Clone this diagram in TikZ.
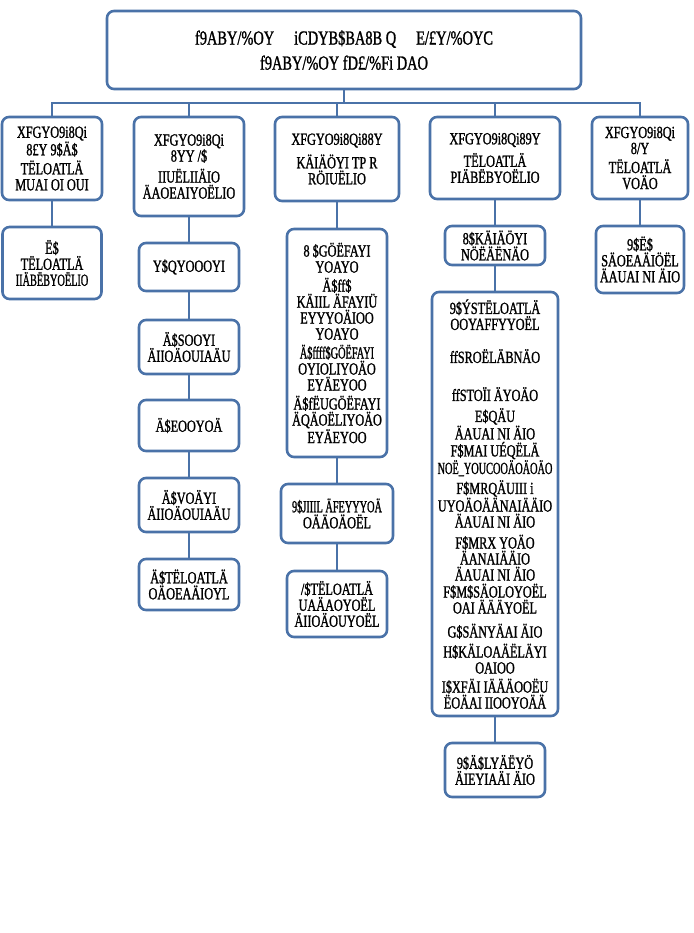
\documentclass[tikz,border=0pt]{standalone}
\usepackage{fontspec}
\setmainfont[FakeStretch=0.72,FakeBold=1.2]{Liberation Serif}
\definecolor{boxblue}{HTML}{4A72A8}
\newcommand{\narrowline}[1]{\scalebox{0.84}[1]{#1}}
\tikzset{
  box/.style={draw=boxblue, line width=2.6pt, rounded corners=7pt, fill=white,
    align=center, inner sep=1pt, font=\fontsize{17}{16}\selectfont},
  topbox/.style={box, font=\fontsize{20}{25}\selectfont},
  link/.style={draw=boxblue, line width=2.6pt},
}
\begin{document}
\begin{tikzpicture}[x=1pt,y=-1pt]
\useasboundingbox (0,0) rectangle (693,933);
\fill[white] (0,0) rectangle (693,933);
% top
\node[topbox, minimum width=474pt, minimum height=78pt] (top) at (344,50)
  {f9ABY/\%OY\quad iCDYB\$BA8B Q\quad E/£Y/\%OYC\\ f9ABY/\%OY fD£/\%Fi DAO};
\coordinate (bus) at (344,103);
% row 1
\node[box, minimum width=100pt, minimum height=83pt] (b1) at (52,158.5)
  {XFGYO9i8Qi\\8£Y 9\$Ä\$\\[3pt]TËLOATLÄ\\MUAI OI OUI};
\node[box, minimum width=110pt, minimum height=99pt] (b2) at (189,166.5)
  {XFGYO9i8Qi\\8YY /\$\\[5pt]IIUËLIIÄIO\\ÄAOEAIYOËLIO};
\node[box, minimum width=124pt, minimum height=84pt] (b3) at (337,159)
  {XFGYO9i8Qi88Y\\[6pt]KÄIÄÖYI TP R\\RÖIUËLIO};
\node[box, minimum width=130pt, minimum height=82pt] (b4) at (495,158)
  {XFGYO9i8Qi89Y\\[5pt]TËLOATLÄ\\PIÄBËBYOËLIO};
\node[box, minimum width=96pt, minimum height=82pt] (b5) at (640,158)
  {XFGYO9i8Qi\\8/Y\\[3pt]TËLOATLÄ\\VOÄO};
% column 1
\node[box, minimum width=99pt, minimum height=72pt] (c1) at (52,263)
  {Ë\$\\TËLOATLÄ\\\narrowline{IIÄBËBYOËLIO}};
% column 2
\node[box, minimum width=100pt, minimum height=48pt] (c2a) at (189,267) {Y\$QYOOOYI};
\node[box, minimum width=100pt, minimum height=54pt] (c2b) at (189,347) {Ä\$SOOYI\\ÄIIOÄOUIAÄU};
\node[box, minimum width=100pt, minimum height=51pt] (c2c) at (189,425.5) {Ä\$EOOYOÄ};
\node[box, minimum width=100pt, minimum height=54pt] (c2d) at (189,505) {Ä\$VOÄYI\\ÄIIOÄOUIAÄU};
\node[box, minimum width=100pt, minimum height=51pt] (c2e) at (189,584.5) {Ä\$TËLOATLÄ\\OÄOEAÄIOYL};
% column 3
\node[box, minimum width=100pt, minimum height=228pt] (c3a) at (337,343)
  {8 \$GÖËFAYI\\YOAYO\\[3pt]Ä\$ff\$\\KÄIIL ÄFAYIÜ\\EYYYOÄIOO\\YOAYO\\[3pt]\narrowline{Ä\$ffff\$GÖËFAYI}\\OYIOLIYOÄO\\EYÄEYOO\\[3pt]Ä\$fËUGÖËFAYI\\ÄQÄOËLIYOÄO\\EYÄEYOO};
\node[box, minimum width=112pt, minimum height=59pt] (c3b) at (337,513.5)
  {\narrowline{9\$JIIIL ÄFEYYYOÄ}\\OÄÄOÄOËL};
\node[box, minimum width=100pt, minimum height=66pt] (c3c) at (337,604)
  {/\$TËLOATLÄ\\UAÄAOYOËL\\ÄIIOÄOUYOËL};
% column 4
\node[box, minimum width=100pt, minimum height=39pt] (c4a) at (495,245.5)
  {8\$KÄIÄÖYI\\NÖËÄËNÄO};
\node[box, minimum width=126pt, minimum height=424pt] (c4b) at (495,504)
  {9\$ÝSTËLOATLÄ\\OOYAFFYYOËL\\[17pt]ffSROËLÄBNÄO\\[22pt]ffSTOÏI ÄYOÄO\\[5pt]E\$QÄU\\ÄAUAI NI ÄIO\\[1pt]F\$MAI UÉQËLÄ\\\narrowline{NOË\_YOUCOOÄOÄOÄO}\\[4pt]F\$MRQÄUIII i\\UYOÄOÄÄNAIÄÄIO\\ÄAUAI NI ÄIO\\[5pt]F\$MRX YOÄO\\ÄANAIÄÄIO\\ÄAUAI NI ÄIO\\[1pt]F\$M\$SÄOLOYOËL\\OAI ÄÄÄYOËL\\[8pt]G\$SÄNYÄAI ÄIO\\[4pt]H\$KÄLOAÄËLÄYI\\OAIOO\\[3pt]I\$XFÄI IÄÄÄOOËU\\ËOÄAI IIOOYOÄÄ};
\node[box, minimum width=100pt, minimum height=54pt] (c4c) at (495,770)
  {9\$Ä\$LYÄËYÖ\\ÄIEYIAÄI ÄIO};
% column 5
\node[box, minimum width=88pt, minimum height=67pt] (c5) at (640,259.5)
  {9\$Ë\$\\SÄOEAÄIÖËL\\ÄAUAI NI ÄIO};
% connectors
\path[link] (top.south) -- (bus);
\path[link] (b1.north) |- (bus);
\path[link] (b2.north) |- (bus);
\path[link] (b3.north) |- (bus);
\path[link] (b4.north) |- (bus);
\path[link] (b5.north) |- (bus);
\path[link] (b1.south) -- (c1.north);
\path[link] (b2.south) -- (c2a.north);
\path[link] (c2a.south) -- (c2b.north);
\path[link] (c2b.south) -- (c2c.north);
\path[link] (c2c.south) -- (c2d.north);
\path[link] (c2d.south) -- (c2e.north);
\path[link] (b3.south) -- (c3a.north);
\path[link] (c3a.south) -- (c3b.north);
\path[link] (c3b.south) -- (c3c.north);
\path[link] (b4.south) -- (c4a.north);
\path[link] (c4a.south) -- (c4b.north);
\path[link] (c4b.south) -- (c4c.north);
\path[link] (b5.south) -- (c5.north);
\end{tikzpicture}
\end{document}
